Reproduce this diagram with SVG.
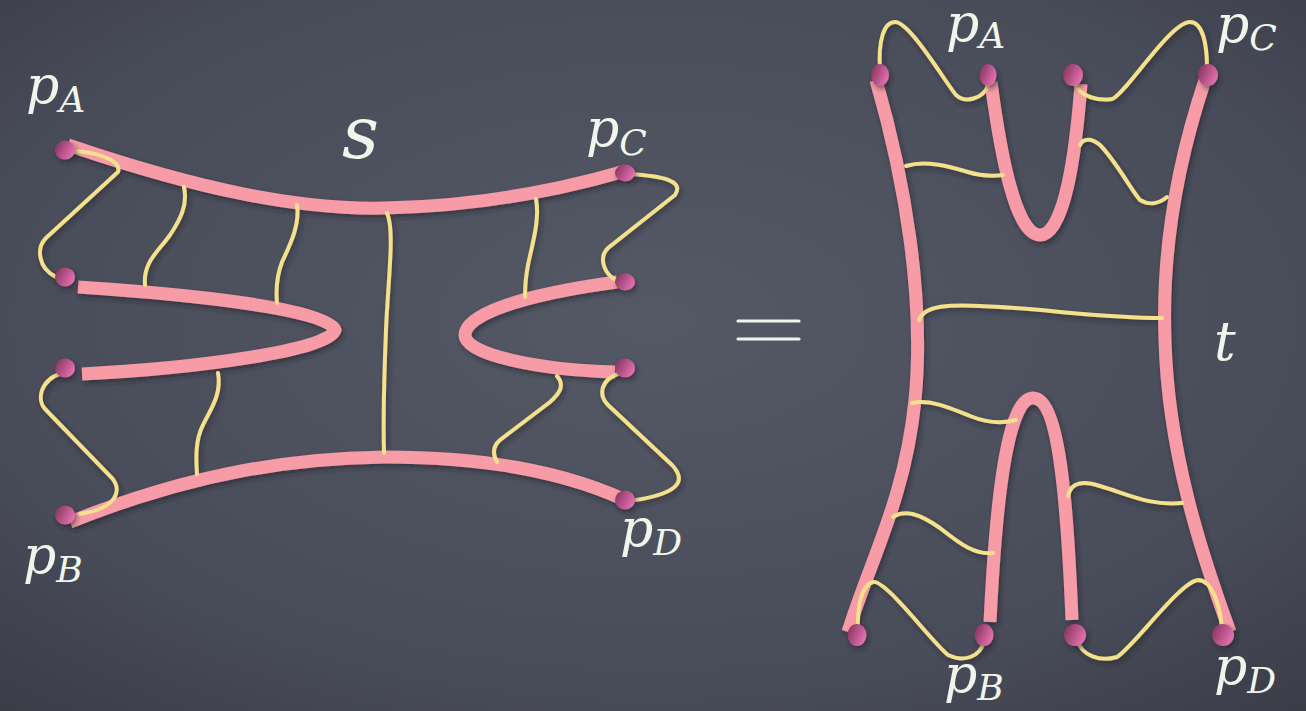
<svg xmlns="http://www.w3.org/2000/svg" width="1306" height="711" viewBox="0 0 1306 711">
<defs>
<radialGradient id="bg" cx="0.5" cy="0.45" r="0.75">
<stop offset="0" stop-color="#555966"/>
<stop offset="0.7" stop-color="#484b58"/>
<stop offset="1" stop-color="#3a3d48"/>
</radialGradient>
<linearGradient id="dot" x1="0" y1="0" x2="1" y2="0.5">
<stop offset="0" stop-color="#7e2f58"/>
<stop offset="1" stop-color="#e26fae"/>
</linearGradient>
<filter id="sh" x="-20%" y="-20%" width="140%" height="140%">
<feDropShadow dx="2" dy="3" stdDeviation="2.5" flood-color="#1c1e26" flood-opacity="0.55"/>
</filter>
<style>
.pink{fill:none;stroke:#f79ba6;stroke-width:13;stroke-linecap:butt}
.yel{fill:none;stroke:#f5e18c;stroke-width:4;stroke-linecap:round}
.dot{fill:url(#dot)}
.lbl{font-family:"DejaVu Serif",serif;font-style:italic;fill:#f1f6ec}
.big{font-size:52px}
.sub{font-size:36px}
</style>
</defs>
<rect width="1306" height="711" fill="url(#bg)"/>

<g id="connectors" filter="url(#sh)">
<path class="pink" d="M68,145 C 200,190 300,210 385,208 C 480,206 560,190 625,171"/>
<path class="pink" d="M78,287 C 200,295 330,310 335,330 C 330,350 200,368 82,374"/>
<path class="pink" d="M617,282 C 520,295 465,315 465,335 C 465,355 540,370 615,372"/>
<path class="pink" d="M70,522 C 200,470 300,458 385,457 C 480,457 560,470 625,500"/>
<path class="yel" d="M68,151 C 95,151 122,160 118,172 L 46,238 C 36,248 38,268 56,277"/>
<path class="yel" d="M184,187 C 188,205 180,220 170,235 C 158,252 143,262 145,285"/>
<path class="yel" d="M297,205 C 300,225 290,245 282,262 C 276,278 276,292 277,303"/>
<path class="yel" d="M387,213 C 395,230 388,280 386,330 C 384,380 383,420 384,453"/>
<path class="yel" d="M536,199 C 540,220 532,245 528,265 C 525,280 525,290 525,297"/>
<path class="yel" d="M218,373 C 222,395 210,410 203,425 C 195,440 196,460 197,474"/>
<path class="yel" d="M62,373 C 40,380 36,400 46,410 L 112,478 C 122,490 118,508 80,514"/>
<path class="yel" d="M630,174 C 660,176 685,180 675,195 L 608,248 C 598,258 604,275 618,281"/>
<path class="yel" d="M557,376 C 565,385 560,393 550,402 L 500,440 C 492,447 493,455 497,462"/>
<path class="yel" d="M620,373 C 600,380 598,395 608,405 L 672,465 C 684,478 685,492 636,500"/>
<path class="pink" d="M876,80 C 905,180 925,300 915,400 C 905,500 870,560 848,632"/>
<path class="pink" d="M1205,80 C 1175,170 1162,260 1165,340 C 1168,450 1200,550 1230,632"/>
<path class="pink" d="M991,82 C 1000,150 1015,235 1040,235 C 1065,235 1076,150 1081,84"/>
<path class="pink" d="M990,622 C 995,520 1005,398 1033,398 C 1061,398 1068,520 1072,620"/>
<path class="yel" d="M880,70 C 878,40 884,22 895,22 C 910,22 945,82 956,95 C 966,104 984,98 988,85"/>
<path class="yel" d="M1074,82 C 1080,98 1100,101 1112,99 C 1125,95 1170,22 1190,22 C 1203,22 1207,45 1207,68"/>
<path class="yel" d="M906,166 C 925,160 948,166 968,172 C 984,177 995,176 1003,175"/>
<path class="yel" d="M1080,145 C 1083,138 1092,138 1100,145 C 1115,160 1130,188 1140,200 C 1150,206 1160,203 1167,197"/>
<path class="yel" d="M919,320 C 924,306 945,303 1000,307 C 1060,311 1110,318 1162,318"/>
<path class="yel" d="M912,403 C 930,399 950,408 970,416 C 990,424 1005,423 1016,420"/>
<path class="yel" d="M1068,496 C 1071,481 1085,481 1100,486 C 1130,495 1150,506 1182,503"/>
<path class="yel" d="M893,517 C 905,509 920,514 940,528 C 960,544 975,555 993,553"/>
<path class="yel" d="M858,630 C 857,605 862,585 873,582 C 885,579 930,640 948,655 C 965,663 980,656 984,642"/>
<path class="yel" d="M1077,640 C 1082,656 1100,662 1117,657 C 1135,645 1180,582 1198,580 C 1212,580 1220,605 1222,628"/>
</g>

<g id="nodes-left" filter="url(#sh)">
<ellipse id="nL1" class="dot" cx="65" cy="150" rx="10" ry="9.5"/>
<ellipse id="nL2" class="dot" cx="65" cy="277" rx="10" ry="9.5"/>
<ellipse id="nL3" class="dot" cx="65" cy="368" rx="10" ry="9.5"/>
<ellipse id="nL4" class="dot" cx="65" cy="515" rx="10" ry="9.5"/>
<ellipse id="nL5" class="dot" cx="625" cy="173" rx="10" ry="8.5"/>
<ellipse id="nL6" class="dot" cx="625" cy="282" rx="10" ry="8.5"/>
<ellipse id="nL7" class="dot" cx="625" cy="368" rx="10" ry="9.5"/>
<ellipse id="nL8" class="dot" cx="625" cy="500" rx="10" ry="9.5"/>
</g>
<g id="nodes-right" filter="url(#sh)">
<ellipse id="nR1" class="dot" cx="880" cy="75" rx="9" ry="11"/>
<ellipse id="nR2" class="dot" cx="988" cy="75" rx="8.5" ry="11"/>
<ellipse id="nR3" class="dot" cx="1073" cy="75" rx="10" ry="11"/>
<ellipse id="nR4" class="dot" cx="1208" cy="75" rx="10" ry="11"/>
<ellipse id="nR5" class="dot" cx="857" cy="635" rx="9.5" ry="11"/>
<ellipse id="nR6" class="dot" cx="984" cy="635" rx="9.5" ry="11"/>
<ellipse id="nR7" class="dot" cx="1075" cy="635" rx="11" ry="11"/>
<ellipse id="nR8" class="dot" cx="1223" cy="635" rx="11" ry="11"/>
</g>

<g id="labels">
<text class="lbl" x="26" y="103"><tspan class="big">p</tspan><tspan class="sub" dy="9">A</tspan></text>
<text class="lbl" x="586" y="146"><tspan class="big">p</tspan><tspan class="sub" dy="9">C</tspan></text>
<text class="lbl" x="23" y="573"><tspan class="big">p</tspan><tspan class="sub" dy="9">B</tspan></text>
<text class="lbl" x="620" y="546"><tspan class="big">p</tspan><tspan class="sub" dy="9">D</tspan></text>
<text class="lbl" x="342" y="158" font-size="72">s</text>
<text class="lbl" x="946" y="41"><tspan class="big">p</tspan><tspan class="sub" dy="7">A</tspan></text>
<text class="lbl" x="1216" y="42"><tspan class="big">p</tspan><tspan class="sub" dy="8">C</tspan></text>
<text class="lbl" x="944" y="692"><tspan class="big">p</tspan><tspan class="sub" dy="8">B</tspan></text>
<text class="lbl" x="1214" y="684"><tspan class="big">p</tspan><tspan class="sub" dy="9">D</tspan></text>
<text class="lbl" x="1214" y="360" font-size="54">t</text>
</g>

<g id="equals" stroke="#f1f6ec" stroke-width="3.2" stroke-linecap="round">
<line x1="738" y1="321" x2="799" y2="321"/>
<line x1="738" y1="339" x2="799" y2="339"/>
</g>
</svg>
